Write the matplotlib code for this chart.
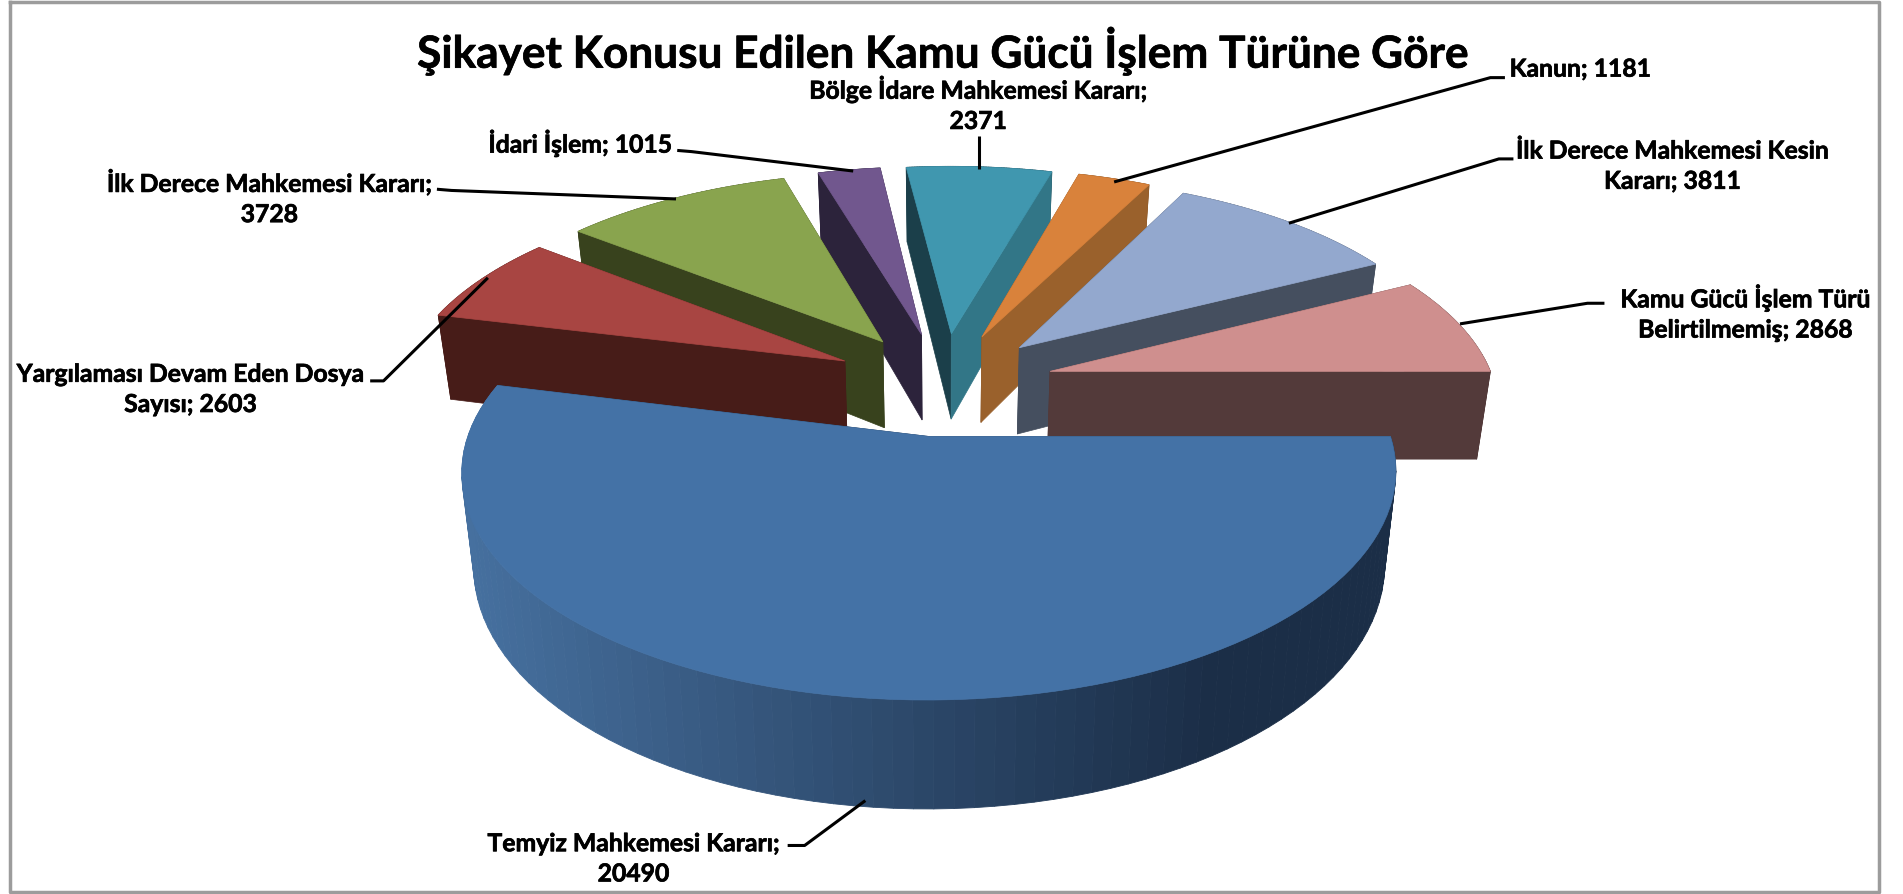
import numpy as np
import matplotlib
matplotlib.use("Agg")
import matplotlib.pyplot as plt
import matplotlib.patheffects as pe
from matplotlib.collections import PolyCollection
from matplotlib.colors import to_rgb

# clockwise from east, the way the slices sit in the picture
categories = ["Temyiz Mahkemesi Kararı", "Yargılaması Devam Eden Dosya Sayısı",
              "İlk Derece Mahkemesi Kararı", "İdari İşlem", "Bölge İdare Mahkemesi Kararı",
              "Kanun", "İlk Derece Mahkemesi Kesin Kararı", "Kamu Gücü İşlem Türü Belirtilmemiş"]
values = [20490, 2603, 3728, 1015, 2371, 1181, 3811, 2868]

label_text = ["Temyiz Mahkemesi Kararı;\n20490", "Yargılaması Devam Eden Dosya\nSayısı; 2603",
              "İlk Derece Mahkemesi Kararı;\n3728", "İdari İşlem; 1015",
              "Bölge İdare Mahkemesi Kararı;\n2371", "Kanun; 1181",
              "İlk Derece Mahkemesi Kesin\nKararı; 3811", "Kamu Gücü İşlem Türü\nBelirtilmemiş; 2868"]

top_colors = ["#4472A6", "#A84542", "#89A44E", "#71578E", "#4097AF", "#D9823B", "#93A8CE", "#CF8F8E"]
start_colors = ["#1B2E47", "#471C18", "#38421D", "#2C233B", "#1B3F4A", "#7E4E22", "#454F5F", "#533A3A"]
end_colors = ["#1B2E47", "#471C18", "#38421D", "#2C233B", "#327687", "#9A612C", "#454F5F", "#533A3A"]

# layout is in the units of the 1568x737 view of the chart
label_pos = [(522, 708), (157, 321), (222, 163), (478, 118), (806, 86), (1302, 57), (1378, 137), (1438, 258)]
leaders = [[(649, 697), (663, 697), (713, 660)],
           [(305, 314), (316, 314), (402, 229)],
           [(360, 156), (372, 157), (557, 164)],
           [(558, 124), (570, 125), (703, 141)],
           [(807, 112), (807, 139)],
           [(1240, 64), (1228, 64), (918, 150)],
           [(1247, 131), (1235, 131), (1062, 184)],
           [(1322, 250), (1308, 250), (1203, 267)]]

CX, CY = 777, 316
RX, RY = 366, 170
PERSP = 0.15
EXPLODE = 0.25
DEPTH = 73


def project(x, y, z=0.0):
    x, y = np.asarray(x, float), np.asarray(y, float)
    s = 1 / (1 - PERSP * y)
    sx = CX + x * RX * s
    sy = CY + y * RY * s + z * DEPTH * s
    if z:
        sx = CX + (sx - CX) * 0.975
    return np.column_stack([sx, sy])


fig = plt.figure(figsize=(19.03, 8.94), dpi=100)
ax = fig.add_axes([0, 0, 1, 1])
ax.set_xlim(0, 1568)
ax.set_ylim(737, 0)
ax.axis("off")

# chart frame
ax.plot([8, 8, 1548.5, 1548.5, 8], [1.5, 735.5, 735.5, 1.5, 1.5], color="#9c9c9c", lw=2.5, zorder=0)

edges = np.concatenate([[0], np.cumsum(values)]) / sum(values) * 2 * np.pi
order = sorted(range(len(values)), key=lambda i: np.sin((edges[i] + edges[i + 1]) / 2))

for z, i in enumerate(order):
    t = np.linspace(edges[i], edges[i + 1], 90)
    mid = (edges[i] + edges[i + 1]) / 2
    ox, oy = EXPLODE * np.cos(mid), EXPLODE * np.sin(mid)
    arc_top = project(ox + np.cos(t), oy + np.sin(t))
    arc_bot = project(ox + np.cos(t), oy + np.sin(t), 1.0)
    apex_top = project([ox], [oy])[0]
    apex_bot = project([ox], [oy], 1.0)[0]
    base = 10 + z * 4

    # outer wall, shaded from left to right in strips
    quads = [[arc_top[k], arc_top[k + 1], arc_bot[k + 1], arc_bot[k]] for k in range(len(t) - 1)]
    light, dark = np.array(to_rgb("#46709F")), np.array(to_rgb(start_colors[i]))
    shade = np.clip((arc_top[:-1, 0] - 385) / 620, 0, 1)
    if i != 0:
        shade = np.ones_like(shade)
    cols = [tuple(light + (dark - light) * v) for v in shade]
    ax.add_collection(PolyCollection(quads, facecolors=cols, edgecolors=cols, linewidths=0.6, zorder=base))

    # the two cut faces, the one nearer the back first
    faces = [(arc_top[0], arc_bot[0], start_colors[i]), (arc_top[-1], arc_bot[-1], end_colors[i])]
    faces.sort(key=lambda f: f[0][1])
    for n, (a, b, col) in enumerate(faces):
        ax.fill(*zip(apex_top, a, b, apex_bot), color=col, lw=0.5, zorder=base + 1 + n * 0.1)

    # top surface
    outline = np.vstack([apex_top, arc_top])
    ax.fill(outline[:, 0], outline[:, 1], color=top_colors[i], lw=0.5, zorder=base + 2)

for pts in leaders:
    xs, ys = zip(*pts)
    ax.plot(xs, ys, color="black", lw=2.2, zorder=60, solid_capstyle="butt")

heavier = [pe.withStroke(linewidth=0.5, foreground="black")]
for txt, (x, y) in zip(label_text, label_pos):
    ax.text(x, y, txt, ha="center", va="center", fontsize=17.8, fontweight="bold", family="Lato",
            linespacing=1.38, color="black", zorder=70, path_effects=heavier)

ax.text(777, 42, "Şikayet Konusu Edilen Kamu Gücü İşlem Türüne Göre", ha="center", va="center",
        fontsize=31.8, fontweight="bold", family="Lato", color="black", zorder=70, path_effects=heavier)

fig.savefig("out.png", dpi=100, facecolor="white")
